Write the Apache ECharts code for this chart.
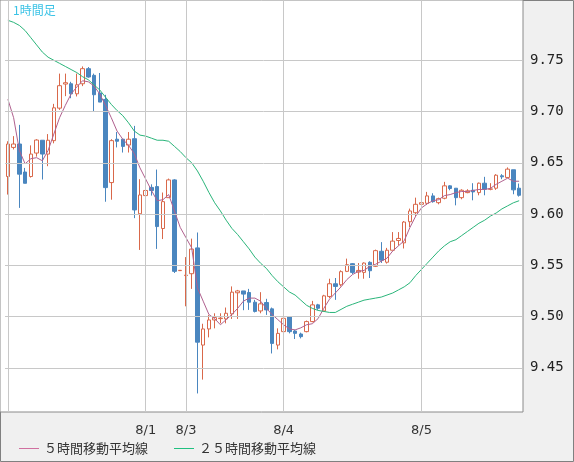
<!DOCTYPE html>
<html><head><meta charset="utf-8">
<script src="https://cdn.jsdelivr.net/npm/echarts@6/dist/echarts.min.js"></script>
<style>html,body{margin:0;padding:0;background:#f0f0f0}#c{width:574px;height:462px}</style>
</head><body><div id="c"></div>
<script>
// [open, close, low, high]
const candles = [
[9.6366,9.6683,9.619,9.671],[9.6650,9.6683,9.663,9.676],[9.6683,9.6389,9.606,9.687],[9.641,9.630,9.630,9.645],
[9.6366,9.6585,9.6356,9.667],[9.6595,9.6722,9.656,9.673],[9.672,9.6585,9.6337,9.672],[9.6585,9.672,9.6467,9.678],
[9.6716,9.7036,9.669,9.7075],[9.7033,9.7252,9.7016,9.737],[9.7268,9.7281,9.715,9.737],[9.7271,9.7173,9.713,9.729],
[9.7173,9.7261,9.7147,9.737],[9.7271,9.7418,9.7248,9.744],[9.7418,9.7337,9.733,9.7434],[9.7353,9.7164,9.700,9.737],
[9.718,9.7092,9.7092,9.7376],[9.7118,9.6258,9.612,9.7163],[9.6307,9.6716,9.614,9.673],[9.673,9.671,9.665,9.680],
[9.673,9.666,9.660,9.673],[9.6673,9.673,9.660,9.680],[9.6735,9.604,9.596,9.686],[9.6003,9.6186,9.565,9.634],
[9.6180,9.623,9.599,9.634],[9.626,9.623,9.618,9.629],[9.6268,9.5878,9.566,9.6434],[9.5859,9.6121,9.5756,9.621],
[9.6160,9.6333,9.616,9.6346],[9.6333,9.5441,9.5425,9.634],[9.5448,9.5451,9.5445,9.5452],[9.540,9.5404,9.510,9.558],
[9.5418,9.5658,9.527,9.576],[9.567,9.475,9.425,9.582],[9.4722,9.4879,9.4385,9.493],[9.4879,9.4967,9.4797,9.5016],
[9.4967,9.499,9.4885,9.5032],[9.498,9.4985,9.4934,9.5032],[9.4977,9.5032,9.4934,9.5088],[9.5026,9.5238,9.4977,9.5294],
[9.5232,9.525,9.4977,9.526],[9.525,9.5219,9.5062,9.525],[9.5235,9.514,9.5065,9.527],[9.514,9.505,9.504,9.5163],
[9.5055,9.5124,9.5032,9.5238],[9.5137,9.5065,9.5016,9.5173],[9.5075,9.4738,9.464,9.5088],[9.4722,9.4836,9.468,9.4885],
[9.4853,9.4983,9.476,9.500],[9.500,9.4853,9.4836,9.500],[9.4859,9.4836,9.4781,9.4869],[9.4830,9.4804,9.4787,9.4843],
[9.4853,9.4951,9.4846,9.4961],[9.4951,9.5114,9.4944,9.5153],[9.5114,9.5081,9.5065,9.5124],[9.5055,9.5202,9.5049,9.5212],
[9.5196,9.532,9.518,9.5369],[9.532,9.5294,9.5163,9.5376],[9.5310,9.5438,9.5294,9.5451],[9.5441,9.5506,9.5434,9.5565],
[9.5516,9.5431,9.5415,9.5522],[9.5434,9.545,9.5369,9.5522],[9.5431,9.5522,9.5369,9.5529],[9.5529,9.5447,9.5376,9.5539],
[9.5490,9.5643,9.5483,9.5653],[9.5637,9.555,9.5523,9.5726],[9.553,9.5647,9.5517,9.5670],[9.5647,9.5736,9.5647,9.5824],
[9.5742,9.5762,9.5693,9.5824],[9.5719,9.5922,9.5664,9.5932],[9.5925,9.603,9.5873,9.6053],[9.6013,9.6095,9.598,9.616],
[9.6095,9.6111,9.6079,9.6128],[9.6105,9.6177,9.6088,9.6216],[9.6177,9.6121,9.6111,9.6203],[9.6111,9.615,9.6095,9.616],
[9.6154,9.6275,9.6144,9.6314],[9.6275,9.6249,9.6232,9.6281],[9.6252,9.616,9.6085,9.6252],[9.616,9.6232,9.6144,9.6242],
[9.6209,9.6226,9.6203,9.6242],[9.6232,9.6216,9.6134,9.6301],[9.6209,9.6301,9.6183,9.6307],[9.6301,9.6242,9.6183,9.6363],
[9.6242,9.6245,9.6232,9.6301],[9.6252,9.6379,9.6236,9.6389],[9.6373,9.6363,9.634,9.6389],[9.6357,9.6438,9.635,9.6455],
[9.6432,9.6236,9.6193,9.6432],[9.6252,9.6183,9.6170,9.6298]
];
const ma5 = [9.712,9.694,9.662,9.649,9.654,9.655,9.652,9.662,9.678,9.694,9.706,9.717,9.724,9.730,9.729,9.725,9.717,9.706,9.694,9.681,
9.673,9.667,9.659,9.645,9.634,9.623,9.613,9.614,9.619,9.603,9.587,9.577,9.567,9.528,9.515,9.502,9.498,9.492,9.497,9.502,
9.508,9.515,9.518,9.518,9.515,9.508,9.502,9.497,9.492,9.488,9.487,9.489,9.492,9.493,9.498,9.508,9.517,9.523,9.529,9.536,
9.541,9.544,9.545,9.549,9.551,9.554,9.557,9.564,9.569,9.574,9.587,9.598,9.606,9.610,9.613,9.614,9.618,9.619,9.621,9.622,
9.622,9.623,9.624,9.624,9.625,9.629,9.632,9.635,9.632,9.632];
const ma25 = [9.789,9.787,9.784,9.779,9.772,9.765,9.758,9.753,9.750,9.747,9.744,9.741,9.738,9.734,9.731,9.726,9.721,9.714,9.707,9.701,
9.696,9.689,9.681,9.677,9.676,9.674,9.672,9.672,9.671,9.666,9.661,9.655,9.650,9.642,9.632,9.621,9.611,9.603,9.594,9.586,
9.580,9.573,9.566,9.558,9.552,9.547,9.540,9.534,9.529,9.524,9.521,9.516,9.511,9.508,9.506,9.505,9.504,9.504,9.507,9.510,
9.512,9.514,9.516,9.517,9.518,9.519,9.521,9.523,9.526,9.529,9.533,9.540,9.546,9.552,9.558,9.564,9.569,9.573,9.575,9.579,
9.583,9.587,9.591,9.594,9.598,9.601,9.605,9.608,9.611,9.613];
const dateLabels = {24:'8/1',31:'8/3',48:'8/4',72:'8/5'};
const gridIdx = [0,24,31,48,72];
const yTicks = [9.45,9.50,9.55,9.60,9.65,9.70,9.75];
const categories = candles.map((_, i) => String(i));

const chart = echarts.init(document.getElementById('c'));
chart.setOption({
  animation:false,
  backgroundColor:'#f0f0f0',
  graphic:[
    {type:'rect',z:-10,shape:{x:0,y:0,width:523,height:412},style:{fill:'#fff',stroke:'#8a8a8a',lineWidth:1}},
    {type:'rect',z:-11,shape:{x:0.5,y:0.5,width:573,height:461},style:{fill:'#f0f0f0',stroke:'#808080',lineWidth:1}},
    {type:'text',left:13,top:4,style:{text:'1時間足',fill:'#3cc3e6',font:'12px "Noto Sans CJK JP"'}}
  ],
  grid:{left:5,top:0,width:517,height:412},
  legend:{left:14,top:437,itemWidth:20,itemHeight:1,itemGap:26,icon:'rect',
    textStyle:{fontSize:13,color:'#333',fontFamily:'"Noto Sans CJK JP"'},
    data:['５時間移動平均線','２５時間移動平均線']},
  xAxis:{type:'category',data:categories,boundaryGap:true,
    axisLine:{show:false},axisTick:{show:false},splitLine:{show:false},
    axisLabel:{interval:0,margin:12,color:'#333',fontSize:13,fontFamily:'"DejaVu Sans"',
      formatter:(v,i)=>dateLabels[i]||''}},
  yAxis:{type:'value',position:'right',min:9.4069,max:9.8088,scale:true,
    axisLine:{show:false},axisTick:{show:false},splitLine:{show:false},
    axisLabel:{customValues:yTicks,margin:8,color:'#222',fontSize:14,fontFamily:'"DejaVu Sans Mono"',
      formatter:v=>v.toFixed(2)}},
  series:[
    {type:'candlestick',data:candles,barWidth:4,
     itemStyle:{color:'#ffffff',color0:'#4a86bf',borderColor:'#d9684a',borderColor0:'#4a86bf',borderWidth:1},
     markLine:{silent:true,symbol:'none',label:{show:false},animation:false,
       lineStyle:{color:'#c8c8c8',type:'solid',width:1},
       data:[...gridIdx.map(i=>({xAxis:String(i)})),...yTicks.map(v=>({yAxis:v}))]},
     z:2},
    {type:'line',name:'５時間移動平均線',data:ma5,symbol:'none',lineStyle:{width:1,color:'#b0608e'},itemStyle:{color:'#d070a0'},z:3},
    {type:'line',name:'２５時間移動平均線',data:ma25,symbol:'none',lineStyle:{width:1,color:'#2ab57a'},itemStyle:{color:'#20c080'},z:3}
  ]
});
</script></body></html>
